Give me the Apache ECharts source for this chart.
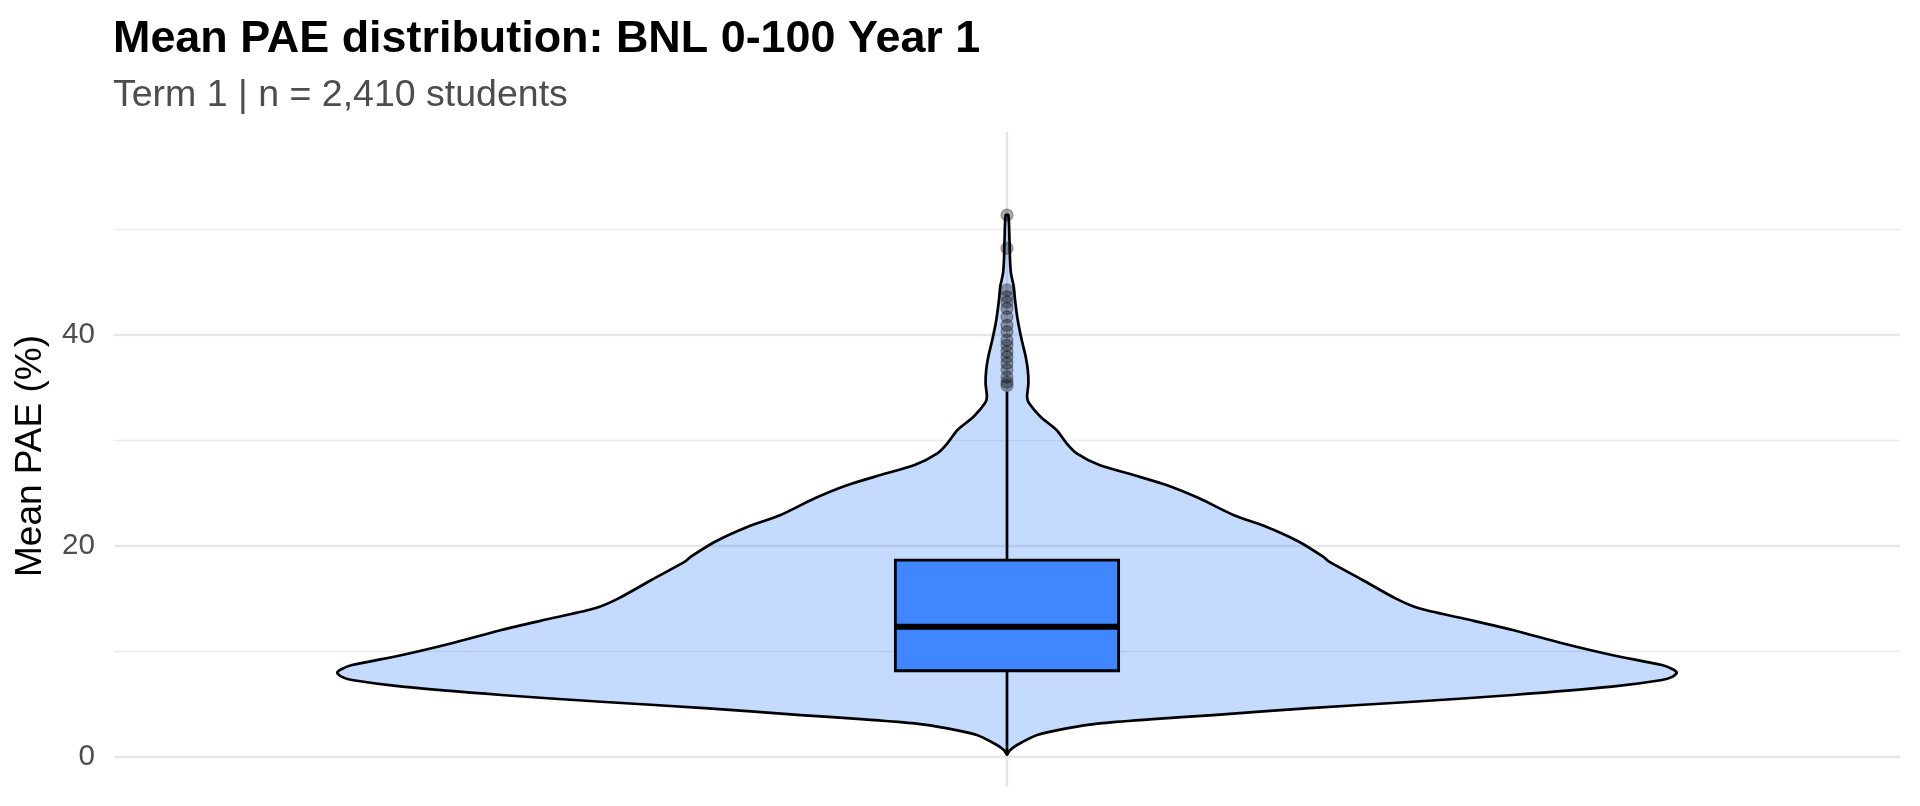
<!DOCTYPE html>
<html><head><meta charset="utf-8">
<script src="https://cdn.jsdelivr.net/npm/echarts@6/dist/echarts.min.js"></script>
<style>html,body{margin:0;padding:0;background:#fff}#c{width:1920px;height:806px}</style>
</head><body><div id="c"></div>
<script>
// ---- text ----
const titleText = 'Mean PAE distribution: BNL 0-100 Year 1';
const subtitleText = 'Term 1 | n = 2,410 students';
const yAxisTitle = 'Mean PAE (%)';
// ---- axes ----
const groupPosition = [1];            // single (unlabelled) group on the x axis
const xRange = [0.4, 1.6];
const yRange = [-2.83, 59.25];
const yMajorTicks = [0, 20, 40];
const yMinorTicks = [10, 30, 50];
// ---- violin density profile: value, relative half-width ----
const violinY = [0.2, 0.6, 1.12, 2.07, 2.7, 3.17, 3.55, 3.96, 4.6, 5.22, 5.86, 6.65, 7.28, 7.6, 7.97, 8.3, 8.7, 9.65, 10.76, 12.02, 13.13, 14.08, 15.02, 16.76, 18.5, 18.97, 20.39, 21.81, 22.92, 24.5, 25.76, 26.71, 27.66, 28.77, 29.72, 30.98, 32.24, 33.51, 34.1, 35.4, 36.7, 37.9, 39.5, 41.4, 43.3, 44.6, 45.8, 47.1, 49.0, 51.35];
const violinW = [0, 0.004, 0.015, 0.045, 0.089, 0.138, 0.213, 0.308, 0.446, 0.606, 0.755, 0.903, 0.978, 0.994, 1.0, 0.994, 0.978, 0.903, 0.829, 0.755, 0.680, 0.615, 0.580, 0.531, 0.481, 0.472, 0.436, 0.387, 0.338, 0.287, 0.238, 0.189, 0.138, 0.104, 0.089, 0.074, 0.050, 0.033, 0.030, 0.032, 0.031, 0.028, 0.022, 0.016, 0.012, 0.010, 0.006, 0.0045, 0.0037, 0.002];
// ---- box statistics: lower whisker, Q1, median, Q3, upper whisker ----
const boxStats = [0.2, 8.16, 12.33, 18.65, 34.6];
// ---- outliers ----
const outliers = [51.35, 48.2, 44.25, 43.6, 43.1, 42.5, 41.7, 40.9, 40.3, 39.5, 39.0, 38.4, 37.9, 37.3, 36.7, 36.0, 35.5, 35.2];

const VIOLIN_HALF = 0.45, BOX_HALF = 0.075;
const chart = echarts.init(document.getElementById('c'), null, {renderer: 'canvas'});
const FONT = 'Liberation Sans, Arial, sans-serif';

chart.setOption({
  animation: false,
  backgroundColor: '#fff',
  title: [
    {text: titleText, left: 113, top: 17, padding: 0,
     textStyle: {fontSize: 44.9, fontWeight: 'bold', color: '#000', fontFamily: FONT}},
    {text: subtitleText, left: 113, top: 77, padding: 0,
     textStyle: {fontSize: 37.5, fontWeight: 'normal', color: '#4D4D4D', fontFamily: FONT}}
  ],
  graphic: [{
    type: 'text', x: 31, y: 456, rotation: Math.PI / 2,
    style: {text: yAxisTitle, fontSize: 37, fontFamily: FONT, fill: '#000', align: 'center', verticalAlign: 'middle'}
  }],
  grid: {left: 114, right: 20, top: 131.7, bottom: 19.3, containLabel: false},
  xAxis: {type: 'value', min: xRange[0], max: xRange[1], show: false},
  yAxis: {
    type: 'value', min: yRange[0], max: yRange[1],
    axisLine: {show: false}, axisTick: {show: false}, splitLine: {show: false},
    axisLabel: {
      margin: 19, fontSize: 29.6, color: '#4D4D4D', fontFamily: FONT,
      showMinLabel: false, showMaxLabel: false,
      formatter: v => (yMajorTicks.indexOf(v) >= 0 ? String(v) : '')
    }
  },
  series: [
    {
      type: 'line', data: [], z: 1, zlevel: 0, silent: true,
      markLine: {
        silent: true, symbol: 'none', label: {show: false}, animation: false,
        data: [
          ...yMinorTicks.map(v => ({yAxis: v, lineStyle: {color: '#EBEBEB', width: 1.3, type: 'solid'}})),
          ...yMajorTicks.map(v => ({yAxis: v, lineStyle: {color: '#E6E6E6', width: 2.4, type: 'solid'}})),
          ...groupPosition.map(v => ({xAxis: v, lineStyle: {color: '#E6E6E6', width: 2.4, type: 'solid'}}))
        ]
      }
    },
    {
      type: 'custom', z: 2, zlevel: 1, silent: true, data: [[groupPosition[0]]],
      renderItem: function (params, api) {
        const cx = api.value(0);
        const right = [], left = [];
        for (let i = 0; i < violinY.length; i++) {
          right.push(api.coord([cx + violinW[i] * VIOLIN_HALF, violinY[i]]));
        }
        for (let i = violinY.length - 1; i >= 0; i--) {
          left.push(api.coord([cx - violinW[i] * VIOLIN_HALF, violinY[i]]));
        }
        return {
          type: 'polygon',
          shape: {points: right.concat(left), smooth: 0.25},
          style: {fill: 'rgba(63,133,255,0.3)', stroke: '#000', lineWidth: 2.7, lineJoin: 'round'}
        };
      }
    },
    {
      type: 'custom', z: 3, zlevel: 1, silent: true,
      data: [[groupPosition[0]].concat(boxStats)],
      renderItem: function (params, api) {
        const cx = api.value(0);
        const lw = api.value(1), q1 = api.value(2), med = api.value(3), q3 = api.value(4), uw = api.value(5);
        const pL = api.coord([cx - BOX_HALF, q3]);
        const pR = api.coord([cx + BOX_HALF, q1]);
        const c = api.coord([cx, 0])[0];
        const yLw = api.coord([cx, lw])[1], yUw = api.coord([cx, uw])[1];
        const yQ1 = api.coord([cx, q1])[1], yQ3 = api.coord([cx, q3])[1], yMed = api.coord([cx, med])[1];
        return {
          type: 'group',
          children: [
            {type: 'line', shape: {x1: c, y1: yQ1, x2: c, y2: yLw}, style: {stroke: '#000', lineWidth: 2.7}},
            {type: 'line', shape: {x1: c, y1: yQ3, x2: c, y2: yUw}, style: {stroke: '#000', lineWidth: 2.7}},
            {type: 'rect', shape: {x: pL[0], y: yQ3, width: pR[0] - pL[0], height: yQ1 - yQ3},
             style: {fill: '#3F86FF', stroke: '#000', lineWidth: 2.8}},
            {type: 'line', shape: {x1: pL[0], y1: yMed, x2: pR[0], y2: yMed}, style: {stroke: '#000', lineWidth: 6.2}}
          ]
        };
      }
    },
    {
      type: 'scatter', z: 4, zlevel: 1, silent: true, symbol: 'circle', symbolSize: 12,
      data: outliers.map(v => [groupPosition[0], v]),
      itemStyle: {color: 'rgba(0,0,0,0.33)', borderColor: 'rgba(0,0,0,0.3)', borderWidth: 1.3, opacity: 1}
    }
  ]
});
</script>
</body></html>
